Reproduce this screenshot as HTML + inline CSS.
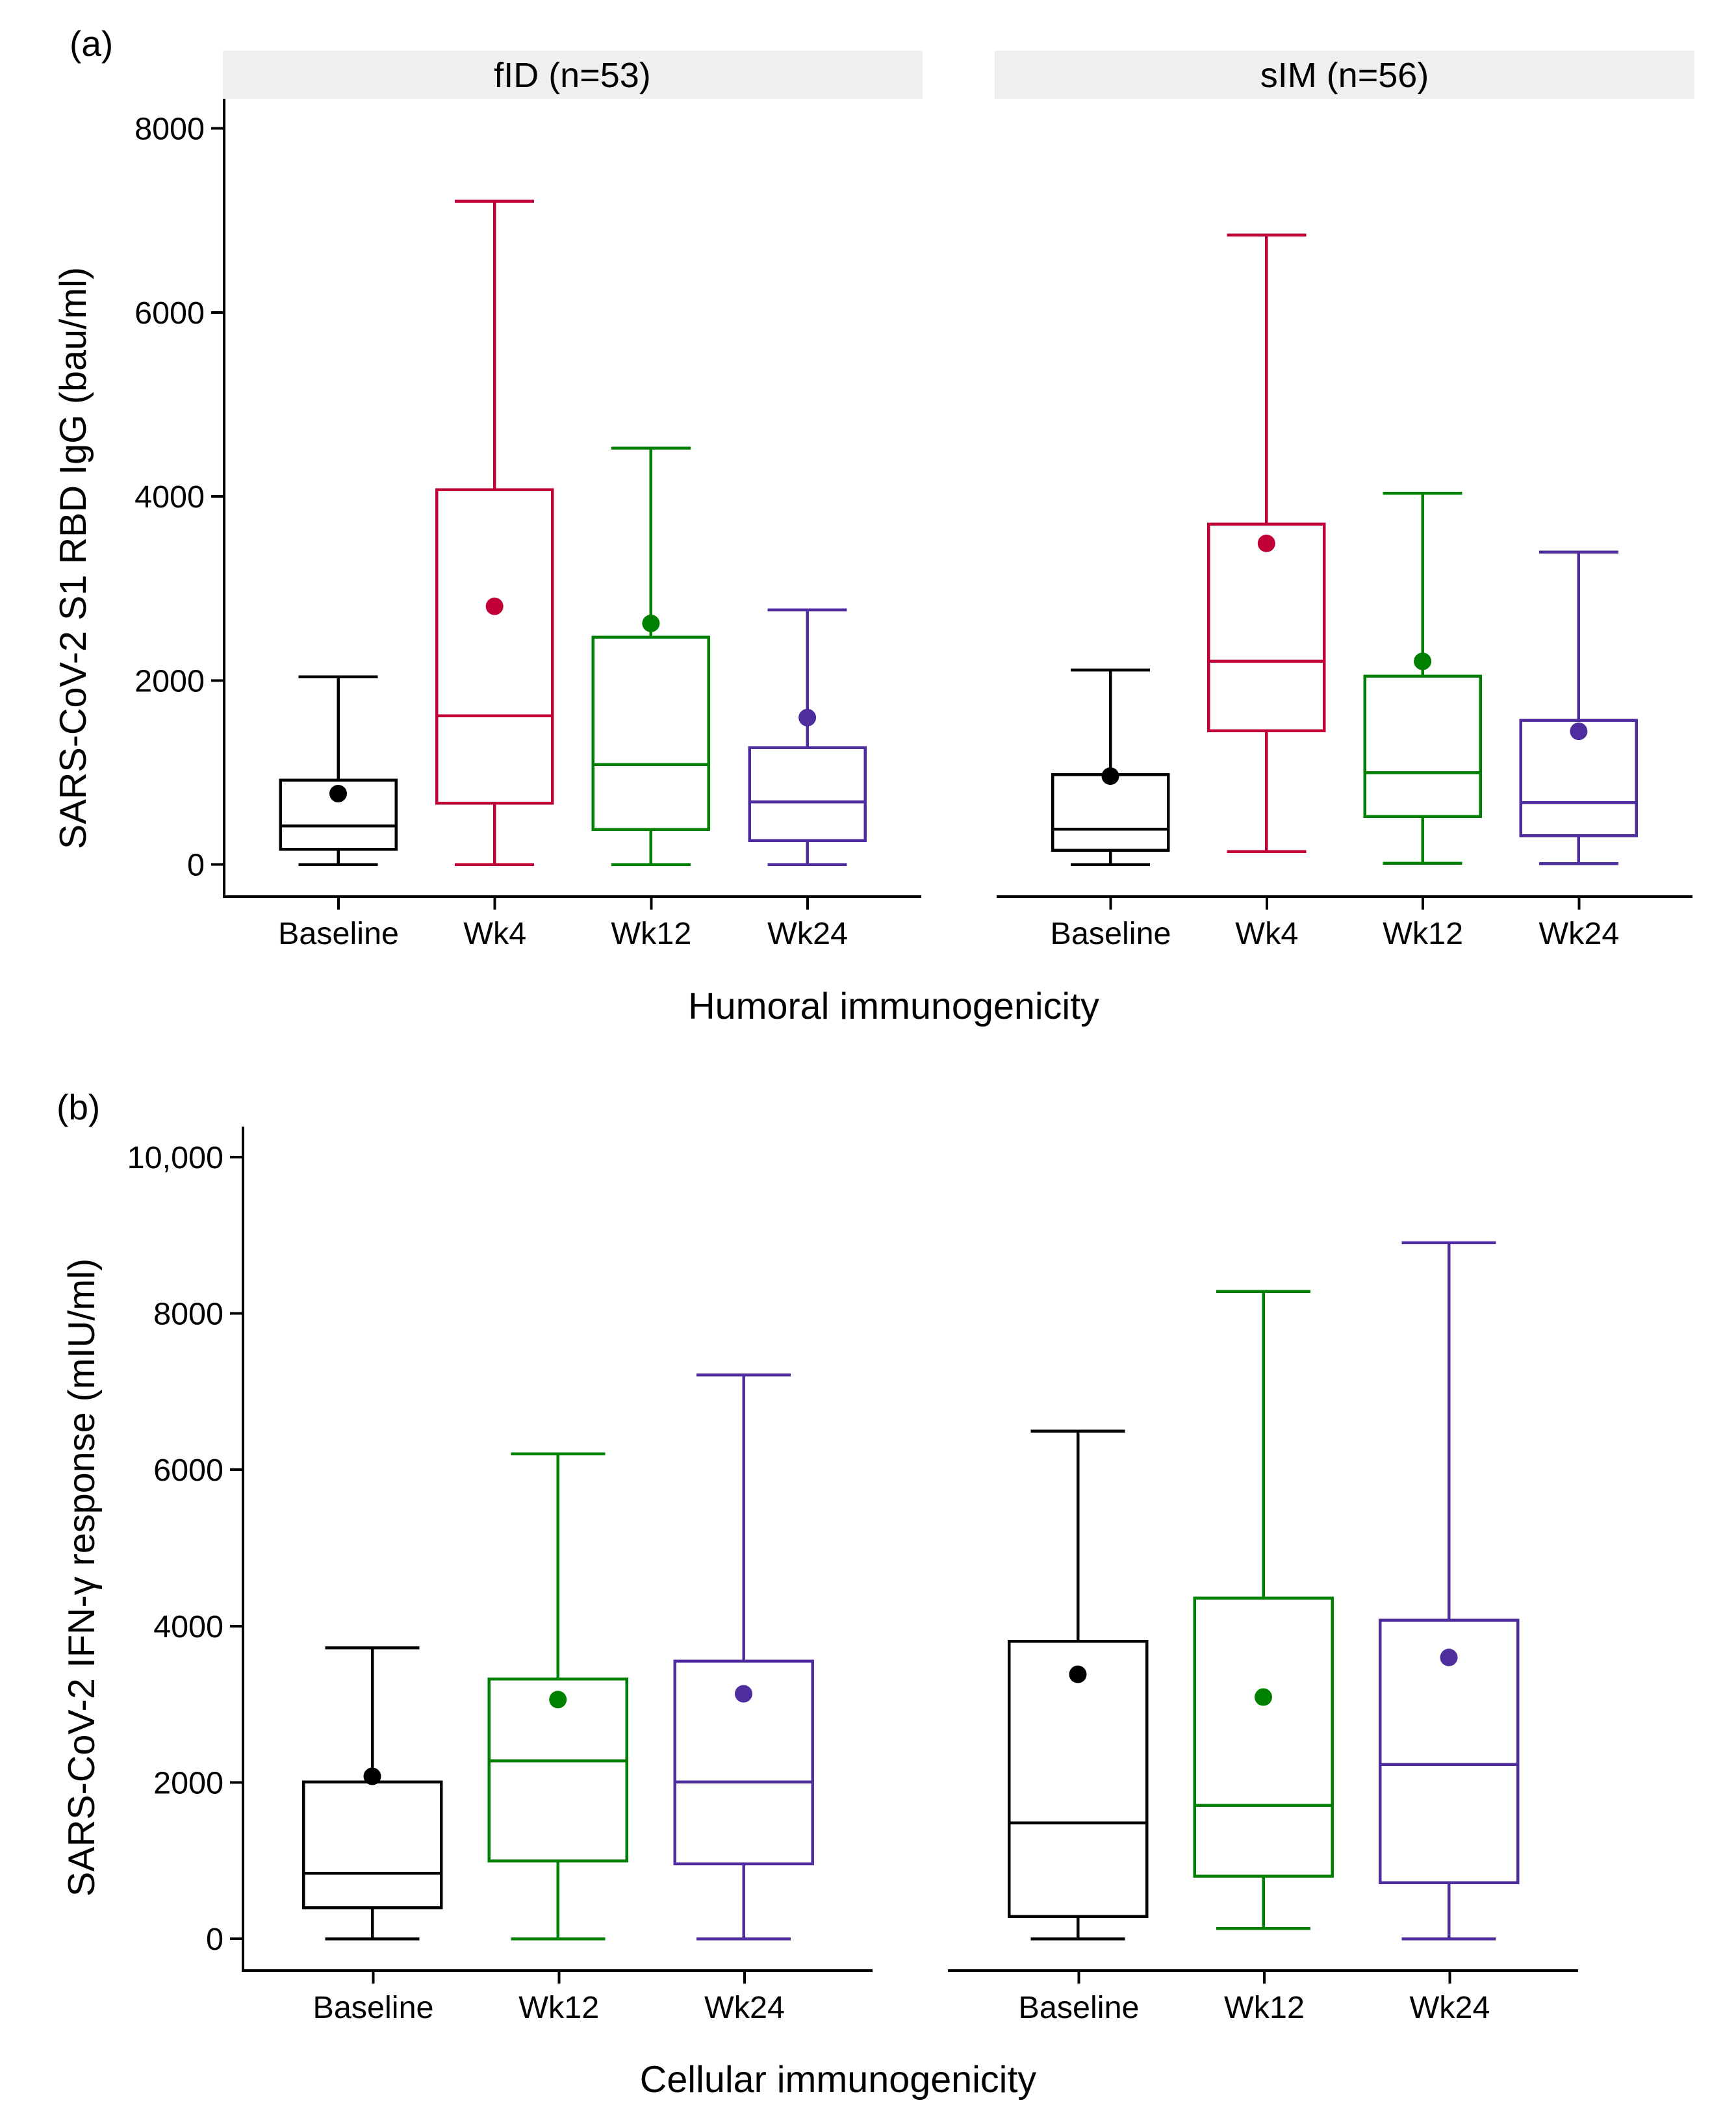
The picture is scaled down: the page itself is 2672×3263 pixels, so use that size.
<!DOCTYPE html>
<html lang="en">
<head>
<meta charset="utf-8">
<title>SARS-CoV-2 immunogenicity box plots</title>
<style>
html,body{margin:0;padding:0;background:#fff;}
svg{display:block;}
text{font-family:"Liberation Sans",Arial,sans-serif;fill:#000;}
line,rect{shape-rendering:crispEdges;}
</style>
</head>
<body>
<svg id="figure" xmlns="http://www.w3.org/2000/svg" width="2672" height="3263" viewBox="0 0 2672 3263">
  <rect x="0" y="0" width="2672" height="3263" fill="#ffffff"/>
  <text x="107" y="86" font-size="55">(a)</text>
  <text x="87" y="1723" font-size="55">(b)</text>
  <rect x="343" y="78" width="1077" height="74" fill="#efefef"/>
  <rect x="1531" y="78" width="1077" height="74" fill="#efefef"/>
  <text x="881" y="134" font-size="54" text-anchor="middle">fID (n=53)</text>
  <text x="2069.5" y="134" font-size="54" text-anchor="middle">sIM (n=56)</text>
  <text transform="translate(132 859) rotate(-90)" font-size="57.6" text-anchor="middle">SARS-CoV-2 S1 RBD IgG (bau/ml)</text>
  <text transform="translate(145 2428) rotate(-90)" font-size="57.6" text-anchor="middle">SARS-CoV-2 IFN-γ response (mIU/ml)</text>
  <text x="1375.5" y="1568" font-size="57.5" text-anchor="middle">Humoral immunogenicity</text>
  <text x="1290" y="3220" font-size="57.5" text-anchor="middle">Cellular immunogenicity</text>
</svg>
<script>
/* Humoral panel: fID */
const humoralCategories = ['Baseline', 'Wk4', 'Wk12', 'Wk24'];
const humoralTicks = [0, 2000, 4000, 6000, 8000];
const humoralTickLabels = ['0', '2000', '4000', '6000', '8000'];
const fidUpper = [2040, 7208, 4526, 2768];
const fidQ3 = [915, 4074, 2471, 1271];
const fidMedian = [420, 1617, 1087, 678];
const fidQ1 = [165, 664, 381, 261];
const fidLower = [0, 0, 0, 0];
const fidMean = [770, 2806, 2620, 1596];
/* Humoral panel: sIM */
const simUpper = [2114, 6842, 4036, 3396];
const simQ3 = [976, 3700, 2048, 1567];
const simMedian = [384, 2208, 996, 671];
const simQ1 = [155, 1452, 522, 311];
const simLower = [0, 140, 14, 10];
const simMean = [960, 3490, 2208, 1447];
/* Cellular panel: fID */
const cellularCategories = ['Baseline', 'Wk12', 'Wk24'];
const cellularTicks = [0, 2000, 4000, 6000, 8000, 10000];
const cellularTickLabels = ['0', '2000', '4000', '6000', '8000', '10,000'];
const cellFidUpper = [3724, 6205, 7215];
const cellFidQ3 = [2007, 3325, 3550];
const cellFidMedian = [836, 2277, 2007];
const cellFidQ1 = [399, 997, 956];
const cellFidLower = [0, 0, 0];
const cellFidMean = [2078, 3060, 3134];
/* Cellular panel: sIM */
const cellSimUpper = [6496, 8283, 8903];
const cellSimQ3 = [3803, 4358, 4076];
const cellSimMedian = [1480, 1707, 2228];
const cellSimQ1 = [283, 801, 715];
const cellSimLower = [0, 133, 0];
const cellSimMean = [3383, 3092, 3599];

const palette = {Baseline: '#000000', Wk4: '#c00037', Wk12: '#008000', Wk24: '#4f2d9e'};
const svg = document.getElementById('figure');
const NS = 'http://www.w3.org/2000/svg';

function mk(tag, attrs, parent) {
  const el = document.createElementNS(NS, tag);
  for (const k in attrs) el.setAttribute(k, attrs[k]);
  parent.appendChild(el);
  return el;
}
function slug(s) { return s.toLowerCase(); }

function drawYAxis(id, axisX, top, bottom, yScale, ticks, labels, labelX) {
  const g = mk('g', {}, svg);
  
  
  const line = mk('line', {x1: axisX, x2: axisX, y1: top, y2: bottom + 2, stroke: '#000', 'stroke-width': 4}, g);
  
  
  ticks.forEach((t, i) => {
    const tick = mk('line', {x1: axisX - 20, x2: axisX, y1: yScale(t), y2: yScale(t), stroke: '#000', 'stroke-width': 4}, g);
    
    
    const lab = mk('text', {x: labelX, y: yScale(t) + 17, 'font-size': 48.5, 'text-anchor': 'end'}, g);
    
    
    lab.textContent = labels[i];
  });
}

function drawXAxis(id, x1, x2, axisY, xScale, cats, shift) {
  const g = mk('g', {}, svg);
  
  
  const line = mk('line', {x1: x1, x2: x2, y1: axisY, y2: axisY, stroke: '#000', 'stroke-width': 4}, g);
  
  
  cats.forEach((c, i) => {
    const tick = mk('line', {x1: xScale(i) + shift, x2: xScale(i) + shift, y1: axisY, y2: axisY + 20, stroke: '#000', 'stroke-width': 4}, g);
    
    
    const lab = mk('text', {x: xScale(i) + shift, y: axisY + 73, 'font-size': 48.5, 'text-anchor': 'middle'}, g);
    
    
    lab.textContent = c;
  });
}

function drawBoxes(id, cats, xScale, yScale, boxW, capW, s) {
  cats.forEach((c, i) => {
    const col = palette[c];
    const x = xScale(i);
    const g = mk('g', {stroke: col, 'stroke-width': 4.5, fill: 'none'}, svg);
    
    
    const up = mk('line', {x1: x, x2: x, y1: yScale(s.upper[i]), y2: yScale(s.q3[i])}, g);
    
    
    const upCap = mk('line', {x1: x - capW / 2, x2: x + capW / 2, y1: yScale(s.upper[i]), y2: yScale(s.upper[i])}, g);
    
    
    const lo = mk('line', {x1: x, x2: x, y1: yScale(s.q1[i]), y2: yScale(s.lower[i])}, g);
    
    
    const loCap = mk('line', {x1: x - capW / 2, x2: x + capW / 2, y1: yScale(s.lower[i]), y2: yScale(s.lower[i])}, g);
    
    
    const box = mk('rect', {x: x - boxW / 2, width: boxW, y: yScale(s.q3[i]), height: yScale(s.q1[i]) - yScale(s.q3[i])}, g);
    
    
    const med = mk('line', {x1: x - boxW / 2, x2: x + boxW / 2, y1: yScale(s.median[i]), y2: yScale(s.median[i])}, g);
    
    
    const mean = mk('circle', {cx: x, cy: yScale(s.mean[i]), r: 13.5, fill: col, stroke: 'none'}, g);
    
    
  });
}

const yHumoral = v => 1330.5 - v * 0.1416;
const yCellular = v => 2984 - v * 0.1203;
const xFid = i => 520.5 + i * 240.7;
const xSim = i => 1709 + i * 240.3;
const xCellFid = i => 573 + i * 285.75;
const xCellSim = i => 1659 + i * 285.5;

drawYAxis('humoral', 345, 152, 1380, yHumoral, humoralTicks, humoralTickLabels, 315);
drawXAxis('humoral-fid', 345, 1418, 1380, xFid, humoralCategories, 0.5);
drawXAxis('humoral-sim', 1534, 2605, 1380, xSim, humoralCategories, 0.5);
drawBoxes('humoral-fid', humoralCategories, xFid, yHumoral, 178, 122,
  {upper: fidUpper, q3: fidQ3, median: fidMedian, q1: fidQ1, lower: fidLower, mean: fidMean});
drawBoxes('humoral-sim', humoralCategories, xSim, yHumoral, 178, 122,
  {upper: simUpper, q3: simQ3, median: simMedian, q1: simQ1, lower: simLower, mean: simMean});

drawYAxis('cellular', 374, 1734, 3033, yCellular, cellularTicks, cellularTickLabels, 344);
drawXAxis('cellular-fid', 374, 1343, 3033, xCellFid, cellularCategories, 1.5);
drawXAxis('cellular-sim', 1459, 2429, 3033, xCellSim, cellularCategories, 1.5);
drawBoxes('cellular-fid', cellularCategories, xCellFid, yCellular, 212, 145,
  {upper: cellFidUpper, q3: cellFidQ3, median: cellFidMedian, q1: cellFidQ1, lower: cellFidLower, mean: cellFidMean});
drawBoxes('cellular-sim', cellularCategories, xCellSim, yCellular, 212, 145,
  {upper: cellSimUpper, q3: cellSimQ3, median: cellSimMedian, q1: cellSimQ1, lower: cellSimLower, mean: cellSimMean});
</script>
</body>
</html>
